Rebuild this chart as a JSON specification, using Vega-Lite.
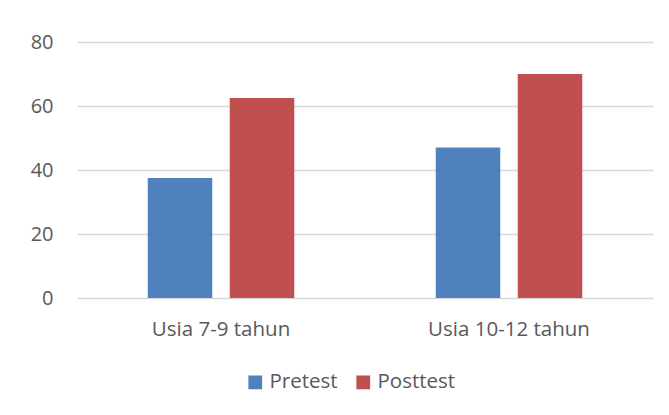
{
  "$schema": "https://vega.github.io/schema/vega-lite/v6.json",
  "autosize": "none",
  "width": 576,
  "height": 256,
  "padding": {"left": 77, "top": 42, "right": 16, "bottom": 117},
  "background": "white",
  "data": {
    "values": [
      {"kelompok": "Usia 7-9 tahun", "tes": "Pretest", "nilai": 37.5},
      {"kelompok": "Usia 7-9 tahun", "tes": "Posttest", "nilai": 62.5},
      {"kelompok": "Usia 10-12 tahun", "tes": "Pretest", "nilai": 47},
      {"kelompok": "Usia 10-12 tahun", "tes": "Posttest", "nilai": 70}
    ]
  },
  "mark": {"type": "bar"},
  "encoding": {
    "x": {
      "field": "kelompok",
      "type": "nominal",
      "sort": ["Usia 7-9 tahun", "Usia 10-12 tahun"],
      "scale": {"paddingInner": 0, "paddingOuter": 0},
      "axis": {
        "title": null,
        "labelAngle": 0,
        "domain": false,
        "ticks": false,
        "labelPadding": 21,
        "labelFont": "Open Sans",
        "labelFontSize": 20.5,
        "labelColor": "#595959"
      }
    },
    "xOffset": {
      "field": "tes",
      "type": "nominal",
      "sort": ["Pretest", "Posttest"],
      "scale": {"paddingInner": 0.213, "paddingOuter": 0.8625}
    },
    "y": {
      "field": "nilai",
      "type": "quantitative",
      "scale": {"domain": [0, 80]},
      "axis": {
        "title": null,
        "values": [0, 20, 40, 60, 80],
        "domain": false,
        "ticks": false,
        "labelPadding": 24,
        "labelFont": "Open Sans",
        "labelFontSize": 20,
        "labelColor": "#595959",
        "gridColor": "#D9D9D9",
        "gridWidth": 1.5
      }
    },
    "color": {
      "field": "tes",
      "type": "nominal",
      "sort": ["Pretest", "Posttest"],
      "scale": {"domain": ["Pretest", "Posttest"], "range": ["#4F81BD", "#C0504D"]},
      "legend": {
        "title": null,
        "orient": "none",
        "direction": "horizontal",
        "legendX": 168,
        "legendY": 330,
        "symbolType": "square",
        "symbolSize": 190,
        "symbolStrokeWidth": 0,
        "symbolOpacity": 1,
        "labelFont": "Open Sans",
        "labelFontSize": 20.5,
        "labelColor": "#595959",
        "labelOffset": 4,
        "columnPadding": 15
      }
    }
  },
  "config": {
    "view": {"stroke": null}
  }
}
